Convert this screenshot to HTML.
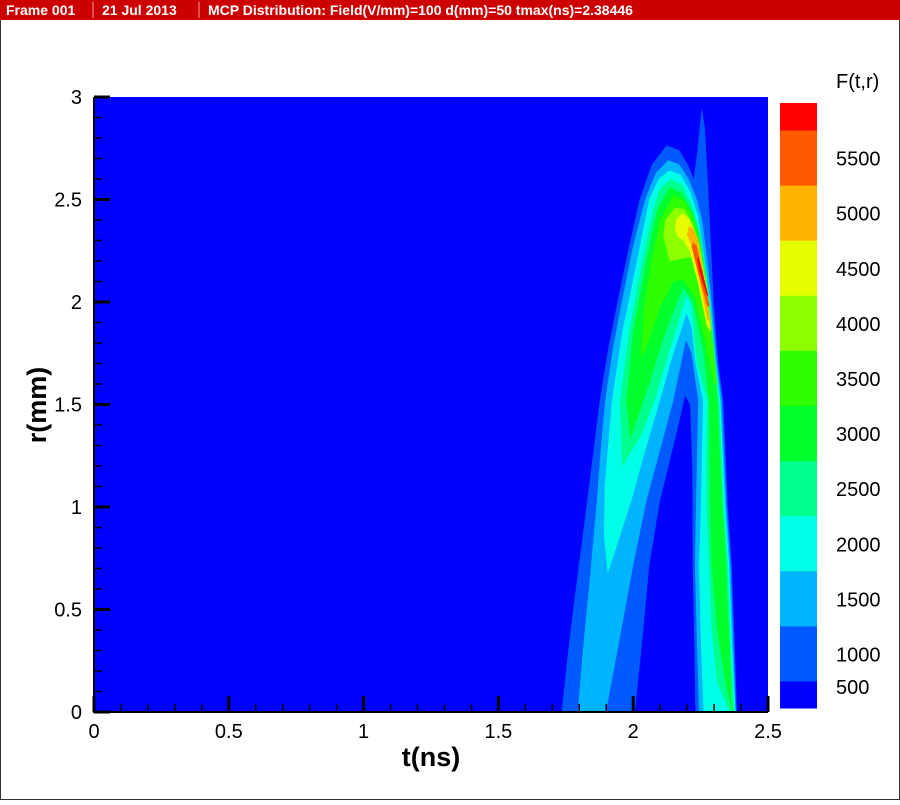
<!DOCTYPE html>
<html><head><meta charset="utf-8"><style>
html,body{margin:0;padding:0;background:#fff;}
svg text{font-family:"Liberation Sans",sans-serif;}
</style></head><body>
<svg id="chart" width="900" height="800" viewBox="0 0 900 800" xmlns="http://www.w3.org/2000/svg">
<rect x="0.5" y="0.5" width="899" height="799" fill="#fff" stroke="#333"/>
<g>
<rect x="0" y="0" width="900" height="20" fill="#cc0000"/>
<text x="6" y="15" fill="#fff" font-size="14" font-weight="bold">Frame 001</text>
<line x1="93" y1="2" x2="93" y2="18" stroke="#f0a0a0"/>
<text x="102" y="15" fill="#fff" font-size="14" font-weight="bold">21 Jul 2013</text>
<line x1="199" y1="2" x2="199" y2="18" stroke="#f0a0a0"/>
<text x="208" y="15" fill="#fff" font-size="14" font-weight="bold">MCP Distribution: Field(V/mm)=100 d(mm)=50 tmax(ns)=2.38446</text>
</g>
<g id="plot"></g>
<g id="axes"></g>
<g id="legend"></g>
</svg>
<script>
const levels=[500,1000,1500,2000,2500,3000,3500,4000,4500,5000,5500];
const levelColors=["#0000ff","#005aff","#00b4ff","#00ffe6","#00ff8c","#00ff2d","#2dff00","#8cff00","#e6ff00","#ffb400","#ff5a00","#ff0000"];
const xTicks=[0,0.5,1,1.5,2,2.5];
const yTicks=[0,0.5,1,1.5,2,2.5,3];
// contour region outlines in data coords [t(ns), r(mm)]
const band1000=[[1.735,0],[1.76,0.3],[1.783,0.55],[1.808,0.8],[1.83,1.03],[1.853,1.27],[1.877,1.52],[1.908,1.77],[1.944,2.01],[1.985,2.27],[2.025,2.5],[2.07,2.67],[2.124,2.763],[2.17,2.74],[2.205,2.66],[2.225,2.595],[2.24,2.75],[2.254,2.94],[2.265,2.85],[2.273,2.66],[2.285,2.35],[2.297,2.01],[2.315,1.7],[2.333,1.52],[2.35,1.0],[2.365,0.71],[2.375,0.35],[2.384,0]];
const band1500=[[1.796,0],[1.815,0.3],[1.833,0.55],[1.85,0.8],[1.866,1.03],[1.88,1.27],[1.897,1.52],[1.925,1.77],[1.96,2.01],[2.0,2.27],[2.045,2.5],[2.085,2.63],[2.13,2.69],[2.17,2.67],[2.205,2.6],[2.235,2.5],[2.255,2.4],[2.275,2.2],[2.29,2.0],[2.31,1.7],[2.327,1.52],[2.345,1.0],[2.36,0.71],[2.37,0.35],[2.38,0]];
const band2000=[[1.907,0.678],[1.893,0.85],[1.895,1.1],[1.922,1.52],[1.96,1.85],[2.01,2.17],[2.06,2.5],[2.095,2.6],[2.135,2.64],[2.175,2.62],[2.21,2.54],[2.24,2.42],[2.265,2.2],[2.285,2.0],[2.305,1.7],[2.322,1.52],[2.34,1.0],[2.355,0.71],[2.365,0.35],[2.378,0],[2.2,0],[2.15,0.5],[2.0,0.8]];
const band2500=[[1.96,1.2],[1.952,1.52],[1.985,1.85],[2.03,2.17],[2.075,2.45],[2.10,2.55],[2.14,2.6],[2.18,2.57],[2.215,2.48],[2.245,2.35],[2.268,2.15],[2.29,1.9],[2.31,1.6],[2.318,1.52],[2.335,1.0],[2.35,0.71],[2.36,0.35],[2.374,0],[2.2,0],[2.15,0.5],[2.08,1.2]];
const band3000=[[1.99,1.33],[1.975,1.52],[2.0,1.85],[2.045,2.17],[2.09,2.45],[2.136,2.56],[2.18,2.53],[2.215,2.45],[2.245,2.32],[2.27,2.1],[2.295,1.8],[2.312,1.52],[2.33,1.0],[2.345,0.71],[2.355,0.35],[2.365,0.05],[2.37,0],[2.2,0],[2.15,0.5],[2.08,1.2]];
const band3500=[[2.03,1.73],[2.04,1.96],[2.068,2.2],[2.10,2.4],[2.15,2.52],[2.19,2.49],[2.22,2.42],[2.245,2.3],[2.27,2.1],[2.295,1.8],[2.31,1.6],[2.30,1.6],[2.27,1.8],[2.23,2.02],[2.185,2.11],[2.15,2.10],[2.1,1.98],[2.06,1.82]];
const band4000=[[2.112,2.32],[2.12,2.4],[2.155,2.46],[2.19,2.45],[2.22,2.38],[2.245,2.28],[2.27,2.1],[2.29,1.87],[2.283,1.85],[2.25,2.05],[2.217,2.22],[2.17,2.21],[2.136,2.2]];
const band4500=[[2.155,2.36],[2.16,2.40],[2.18,2.43],[2.205,2.41],[2.23,2.33],[2.255,2.15],[2.285,1.87],[2.275,1.88],[2.24,2.1],[2.21,2.25],[2.186,2.30],[2.165,2.32]];
const band5000=[[2.20,2.33],[2.207,2.37],[2.22,2.36],[2.24,2.3],[2.26,2.12],[2.285,1.9],[2.275,1.92],[2.245,2.12],[2.215,2.28]];
const band5500=[[2.218,2.27],[2.224,2.29],[2.235,2.27],[2.255,2.14],[2.283,1.98],[2.275,1.98],[2.24,2.15]];
const bandTop=[[2.238,2.21],[2.242,2.22],[2.252,2.17],[2.278,2.03],[2.272,2.04],[2.245,2.16]];
const hole3000=[[1.99,1.33],[2.06,1.6],[2.12,1.85],[2.185,2.07],[2.22,2.0],[2.26,1.75],[2.28,1.52],[2.285,1.0],[2.29,0.71],[2.31,0.4],[2.345,0.12],[2.36,0.04],[2.365,0],[2.2,0],[2.15,0.5],[2.08,1.2]];
const hole2500=[[2.198,2.03],[2.215,1.98],[2.235,1.7],[2.275,1.52],[2.27,1.2],[2.272,1.0],[2.28,0.71],[2.29,0.4],[2.31,0.15],[2.35,0.02],[2.36,0],[1.796,0],[1.815,0.3],[1.833,0.55],[1.86,0.62],[1.907,0.678],[1.893,0.85],[1.895,1.1],[1.91,1.2],[1.96,1.2],[2.03,1.35],[2.08,1.52],[2.14,1.78]];
const hole2000=[[2.198,1.94],[2.215,1.88],[2.23,1.7],[2.258,1.52],[2.25,1.0],[2.243,0.71],[2.25,0.35],[2.26,0],[1.796,0],[1.815,0.3],[1.833,0.55],[1.86,0.62],[1.907,0.678],[1.95,0.85],[1.994,1.03],[2.04,1.25],[2.10,1.52],[2.15,1.75]];
const hole1500=[[2.196,1.81],[2.215,1.75],[2.24,1.52],[2.232,1.0],[2.228,0.71],[2.235,0.35],[2.243,0],[1.90,0],[1.95,0.35],[2.0,0.71],[2.05,1.03],[2.15,1.52]];
const hole1000=[[2.193,1.54],[2.21,1.5],[2.218,1.2],[2.22,0.71],[2.225,0.35],[2.23,0],[2.007,0],[2.035,0.35],[2.06,0.71],[2.10,1.03],[2.16,1.35]];
const regionOrder=[["band-1000",band1000,1],["band-1500",band1500,2],["band-2000",band2000,3],["band-2500",band2500,4],["band-3000",band3000,5],["hole-3000",hole3000,4],["hole-2500",hole2500,3],["hole-2000",hole2000,2],["hole-1500",hole1500,1],["hole-1000",hole1000,0],["band-3500",band3500,6],["band-4000",band4000,7],["band-4500",band4500,8],["band-5000",band5000,9],["band-5500",band5500,10],["band-top",bandTop,11]];

const NS="http://www.w3.org/2000/svg";
const X0=94,X1=768,Y0=712,Y1=97;
const xMax=2.5,yMax=3;
function sx(t){return X0+(t/xMax)*(X1-X0);}
function sy(r){return Y0-(r/yMax)*(Y0-Y1);}
function mk(tag,attrs,parent){const e=document.createElementNS(NS,tag);for(const k in attrs)e.setAttribute(k,attrs[k]);parent.appendChild(e);return e;}

const plot=document.getElementById('plot');
const clip=mk('clipPath',{id:'pc'},plot);
mk('rect',{x:X0,y:Y1,width:X1-X0,height:Y0-Y1},clip);
const bg=mk('rect',{x:X0,y:Y1,width:X1-X0,height:Y0-Y1,fill:levelColors[0]},plot);


const cg=mk('g',{'clip-path':'url(#pc)'},plot);
regionOrder.forEach(([name,pts,ci])=>{
  const p=mk('polygon',{points:pts.map(q=>sx(q[0]).toFixed(1)+','+sy(q[1]).toFixed(1)).join(' '),fill:levelColors[ci],stroke:levelColors[ci],'stroke-width':0.5,'stroke-linejoin':'round'},cg);
  
  
});

const axes=document.getElementById('axes');
const yl=mk('line',{x1:X0,y1:Y1,x2:X0,y2:Y0+1,stroke:'#000','stroke-width':2},axes);


const xl=mk('line',{x1:X0-1,y1:Y0,x2:X1,y2:Y0,stroke:'#000','stroke-width':2},axes);


for(let i=0;i<xTicks.length;i++){
  const x=sx(xTicks[i]);
  mk('line',{x1:x,y1:Y0,x2:x,y2:Y0-16,stroke:'#000','stroke-width':3},axes);
  const t=mk('text',{x:x,y:Y0+26,'font-size':20,'text-anchor':'middle',fill:'#000'},axes);
  t.textContent=xTicks[i];
  
  
  if(i<xTicks.length-1){for(let k=1;k<5;k++){const xm=sx(xTicks[i]+k*0.1);mk('line',{x1:xm,y1:Y0,x2:xm,y2:Y0-8,stroke:'#000','stroke-width':1.5},axes);}}
}
for(let i=0;i<yTicks.length;i++){
  const y=sy(yTicks[i]);
  mk('line',{x1:X0,y1:y,x2:X0+16,y2:y,stroke:'#000','stroke-width':3},axes);
  const t=mk('text',{x:X0-12,y:y+7,'font-size':20,'text-anchor':'end',fill:'#000'},axes);
  t.textContent=yTicks[i];
  
  
  if(i<yTicks.length-1){for(let k=1;k<5;k++){const ym=sy(yTicks[i]+k*0.1);mk('line',{x1:X0,y1:ym,x2:X0+8,y2:ym,stroke:'#000','stroke-width':1.5},axes);}}
}
const xt=mk('text',{x:431,y:766,'font-size':27,'font-weight':'bold','text-anchor':'middle',fill:'#000'},axes);
xt.textContent='t(ns)';


const yt=mk('text',{x:0,y:0,'font-size':27,'font-weight':'bold','text-anchor':'middle',fill:'#000',transform:'translate(46,405) rotate(-90)'},axes);
yt.textContent='r(mm)';



const lg=document.getElementById('legend');
const LX=780,LW=37,LTOP=103,LBOT=708,BH=55.1,FIRST=130;
for(let i=0;i<levelColors.length;i++){
  let y0,y1;
  if(i===0){y0=FIRST+BH*10;y1=LBOT;}
  else if(i===levelColors.length-1){y0=LTOP;y1=FIRST;}
  else{y0=FIRST+BH*(10-i);y1=y0+BH;}
  const r=mk('rect',{x:LX,y:y0,width:LW,height:y1-y0+0.5,fill:levelColors[i]},lg);
  
  
}
for(let i=0;i<levels.length;i++){
  const y=FIRST+BH*(10-i)+BH/2+1;
  const t=mk('text',{x:836,y:(i===0?694:y+7),'font-size':20,fill:'#000'},lg);
  t.textContent=levels[i];
  
  
}
const lt=mk('text',{x:836,y:88,'font-size':20,fill:'#000'},lg);
lt.textContent='F(t,r)';


</script>
</body></html>
